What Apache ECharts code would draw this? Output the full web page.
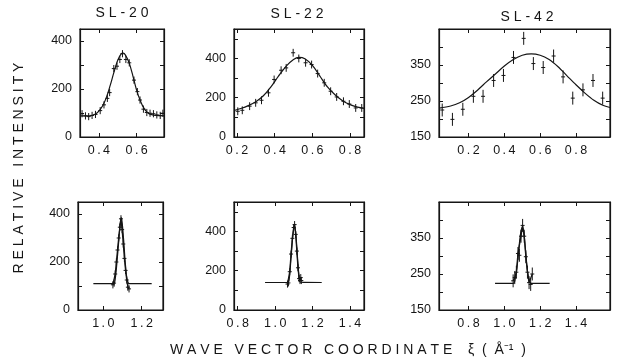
<!DOCTYPE html>
<html><head><meta charset="utf-8">
<script src="https://cdn.jsdelivr.net/npm/echarts@6/dist/echarts.min.js"></script>
<style>html,body{margin:0;padding:0;background:#fff}#c{width:621px;height:363px}</style>
</head><body><div id="c"></div>
<script>
// ---- titles & axis names ----
const panelTitles = ['SL-20', 'SL-22', 'SL-42'];
const yTitle = 'RELATIVE INTENSITY';
const xTitleWords = ['WAVE', 'VECTOR', 'COORDINATE'];
const xTitleUnit = 'ξ  (  Å⁻¹  )';

// ---- axis ranges / ticks ----
const xRanges = [[0.3, 0.745], [0.184, 0.874], [0.035, 0.99], [0.868, 1.311], [0.78, 1.475], [0.635, 1.59]];
const xTickVals = [[0.4, 0.6], [0.2, 0.4, 0.6, 0.8], [0.2, 0.4, 0.6, 0.8], [1.0, 1.2], [0.8, 1.0, 1.2, 1.4], [0.8, 1.0, 1.2, 1.4]];
const yRanges = [[0, 450], [0, 550], [150, 450], [0, 450], [0, 550], [150, 450]];
const yTickVals = [[100, 200, 300, 400], [100, 200, 300, 400, 500], [200, 250, 300, 350, 400],
                   [100, 200, 300, 400], [100, 200, 300, 400, 500], [200, 250, 300, 350, 400]];
const yLabelVals = [[0, 200, 400], [0, 200, 400], [150, 250, 350], [0, 200, 400], [0, 200, 400], [150, 250, 350]];

// ---- data points [x, y] ----
const sl20Pts = [[0.311,97],[0.329,88],[0.346,85],[0.364,90],[0.382,94],[0.407,110],[0.427,134],[0.445,161],[0.457,185],[0.479,285],[0.496,295],[0.511,323],[0.525,347],[0.543,323],[0.561,309],[0.586,237],[0.604,189],[0.618,154],[0.636,116],[0.654,102],[0.671,99],[0.689,97],[0.707,92],[0.725,90],[0.739,99]];
const sl22Pts = [[0.204,131],[0.228,136],[0.267,157],[0.299,174],[0.330,187],[0.367,225],[0.397,293],[0.434,340],[0.461,352],[0.498,429],[0.528,400],[0.564,378],[0.596,369],[0.628,323],[0.663,276],[0.697,233],[0.729,204],[0.765,182],[0.796,168],[0.830,148],[0.862,148]];
const sl42Pts = [[0.053,225],[0.110,199],[0.168,227],[0.227,263],[0.281,263],[0.340,307],[0.395,321],[0.451,371],[0.508,424],[0.562,354],[0.617,343],[0.675,375],[0.728,317],[0.782,258],[0.839,281],[0.895,307],[0.949,258]];
const sl20bPts = [[1.050,105],[1.056,112],[1.062,150],[1.068,200],[1.074,250],[1.080,300],[1.086,345],[1.092,380],[1.098,335],[1.104,275],[1.110,215],[1.116,165],[1.122,125],[1.128,95],[1.134,88]];
const sl22bPts = [[1.066,132],[1.071,138],[1.078,195],[1.085,285],[1.092,365],[1.099,420],[1.104,435],[1.110,385],[1.116,300],[1.122,215],[1.128,160],[1.133,150],[1.137,165],[1.140,150]];
const sl42bPts = [[1.049,231],[1.058,240],[1.067,255],[1.076,307],[1.084,302],[1.093,355],[1.102,385],[1.111,355],[1.120,298],[1.129,255],[1.138,226],[1.147,221],[1.156,250]];
const errHalf = [15, 20, 18, 15, 18, 18];

// ---- fitted curves [x, y] ----
const sl20Fit = [[0.300,88],[0.350,88],[0.380,95],[0.400,108],[0.420,130],[0.440,165],[0.460,215],[0.480,270],[0.500,320],[0.520,348],[0.530,350],[0.540,342],[0.560,310],[0.580,255],[0.600,195],[0.620,150],[0.640,118],[0.660,100],[0.680,93],[0.700,90],[0.745,88]];
const sl22Fit = [[0.185,135],[0.220,145],[0.260,160],[0.300,180],[0.340,210],[0.380,255],[0.420,310],[0.460,360],[0.500,395],[0.530,405],[0.560,398],[0.600,365],[0.640,310],[0.680,255],[0.720,215],[0.760,185],[0.800,165],[0.840,152],[0.874,145]];
const sl42Fit = [[0.035,230],[0.100,236],[0.150,245],[0.200,260],[0.250,280],[0.300,303],[0.350,325],[0.400,347],[0.450,365],[0.500,377],[0.550,381],[0.600,377],[0.650,365],[0.700,345],[0.750,320],[0.800,295],[0.850,272],[0.900,252],[0.950,238],[0.990,232]];
const sl20bFit = [[0.948,110],[1.054,110],[1.062,130],[1.070,190],[1.080,285],[1.088,360],[1.093,385],[1.098,365],[1.106,290],[1.114,200],[1.122,135],[1.130,112],[1.136,110],[1.252,110]];
const sl22bFit = [[0.946,140],[1.068,140],[1.076,165],[1.086,280],[1.096,390],[1.104,430],[1.112,370],[1.120,260],[1.128,170],[1.135,142],[1.249,140]];
const sl42bFit = [[0.948,224],[1.050,224],[1.060,235],[1.070,265],[1.080,315],[1.090,360],[1.100,380],[1.110,360],[1.120,305],[1.130,255],[1.140,230],[1.150,224],[1.253,224]];

const allPts = [sl20Pts, sl22Pts, sl42Pts, sl20bPts, sl22bPts, sl42bPts];
const allFit = [sl20Fit, sl22Fit, sl42Fit, sl20bFit, sl22bFit, sl42bFit];
const connectPts = [false, false, false, true, true, true];

// ---- layout ----
const FONT = '"Liberation Sans", Arial, sans-serif';
const INK = '#151515';
const grids = [
  {left: 80, top: 29, width: 84, height: 108},
  {left: 234, top: 29, width: 130, height: 108},
  {left: 439, top: 29, width: 177, height: 108},
  {left: 78, top: 202, width: 85, height: 108},
  {left: 234, top: 202, width: 130, height: 108},
  {left: 439, top: 202, width: 177, height: 108}
];
const TS = '\u2009';
const spaced = s => s.split('').join(' ');
const fmtX = v => { const s = v.toFixed(1).split('.'); return s[0] + TS + '.' + TS + s[1]; };

const xAxis = [], yAxis = [], series = [];
grids.forEach((g, i) => {
  const lineStyle = {color: INK, width: 1.2};
  const tick = (vals) => ({show: true, inside: true, length: 4, customValues: vals, lineStyle: {color: INK, width: 1}});
  xAxis.push({gridIndex: i, type: 'value', min: xRanges[i][0], max: xRanges[i][1], position: 'bottom',
    axisLine: {show: true, onZero: false, lineStyle}, axisTick: tick(xTickVals[i]),
    axisLabel: {show: true, customValues: xTickVals[i], formatter: fmtX, margin: 7, fontSize: 12.5, fontFamily: FONT, color: INK},
    splitLine: {show: false}});
  xAxis.push({gridIndex: i, type: 'value', min: xRanges[i][0], max: xRanges[i][1], position: 'top',
    axisLine: {show: true, onZero: false, lineStyle}, axisTick: tick(xTickVals[i]),
    axisLabel: {show: true, customValues: xTickVals[i], formatter: () => '', fontSize: 1}, splitLine: {show: false}});
  yAxis.push({gridIndex: i, type: 'value', min: yRanges[i][0], max: yRanges[i][1], position: 'left',
    axisLine: {show: true, onZero: false, lineStyle}, axisTick: tick(yTickVals[i]),
    axisLabel: {show: true, customValues: yLabelVals[i], margin: 8, fontSize: 12.5, fontFamily: FONT, color: INK},
    splitLine: {show: false}});
  yAxis.push({gridIndex: i, type: 'value', min: yRanges[i][0], max: yRanges[i][1], position: 'right',
    axisLine: {show: true, onZero: false, lineStyle}, axisTick: tick(yTickVals[i]),
    axisLabel: {show: true, customValues: yTickVals[i], formatter: () => '', fontSize: 1}, splitLine: {show: false}});

  series.push({type: 'line', xAxisIndex: 2 * i, yAxisIndex: 2 * i, data: allFit[i], smooth: 0.3,
    showSymbol: false, silent: true, lineStyle: {color: INK, width: 1.2}, z: 3});
  if (connectPts[i]) {
    series.push({type: 'line', xAxisIndex: 2 * i, yAxisIndex: 2 * i, data: allPts[i],
      showSymbol: false, silent: true, lineStyle: {color: INK, width: 1.3}, z: 3});
  }
  series.push({type: 'custom', xAxisIndex: 2 * i, yAxisIndex: 2 * i,
    data: allPts[i].map(p => [p[0], p[1], errHalf[i]]),
    encode: {x: 0, y: 1},
    renderItem: (params, api) => {
      const x = api.value(0), y = api.value(1), e = api.value(2);
      const t = api.coord([x, y + e]), b = api.coord([x, y - e]), m = api.coord([x, y]);
      return {type: 'group', children: [
        {type: 'line', shape: {x1: t[0], y1: t[1], x2: b[0], y2: b[1]}, style: {stroke: INK, lineWidth: 1}},
        {type: 'line', shape: {x1: m[0] - 2, y1: m[1], x2: m[0] + 2, y2: m[1]}, style: {stroke: INK, lineWidth: 1}}
      ]};
    }, z: 4});
  // invisible series binding the top/right axes so they are laid out
  series.push({type: 'line', xAxisIndex: 2 * i + 1, yAxisIndex: 2 * i + 1, data: [], showSymbol: false, silent: true});
});

const titleText = (txt, cx, cy) => ({type: 'text', x: cx, y: cy,
  style: {text: spaced(txt), font: '14px ' + FONT, fill: INK, textAlign: 'center', textVerticalAlign: 'middle'}});

const xTitle = xTitleWords.map(spaced).join('   ') + '    ' + xTitleUnit;

const option = {
  backgroundColor: '#fff',
  animation: false,
  grid: grids.map(g => Object.assign({show: true, borderColor: INK, borderWidth: 1.2, backgroundColor: 'transparent'}, g)),
  xAxis, yAxis, series,
  graphic: [
    titleText(panelTitles[0], 122, 13),
    titleText(panelTitles[1], 297, 14),
    titleText(panelTitles[2], 527, 17),
    {type: 'text', x: 19, y: 168, rotation: Math.PI / 2,
      style: {text: yTitle.split(' ').map(spaced).join('   '), font: '14px ' + FONT, fill: INK, textAlign: 'center', textVerticalAlign: 'middle'}},
    {type: 'text', x: 170, y: 350,
      style: {text: xTitle, font: '14px ' + FONT, fill: INK, textAlign: 'left', textVerticalAlign: 'middle'}}
  ]
};
echarts.init(document.getElementById('c'), null, {renderer: 'canvas'}).setOption(option);
</script></body></html>
